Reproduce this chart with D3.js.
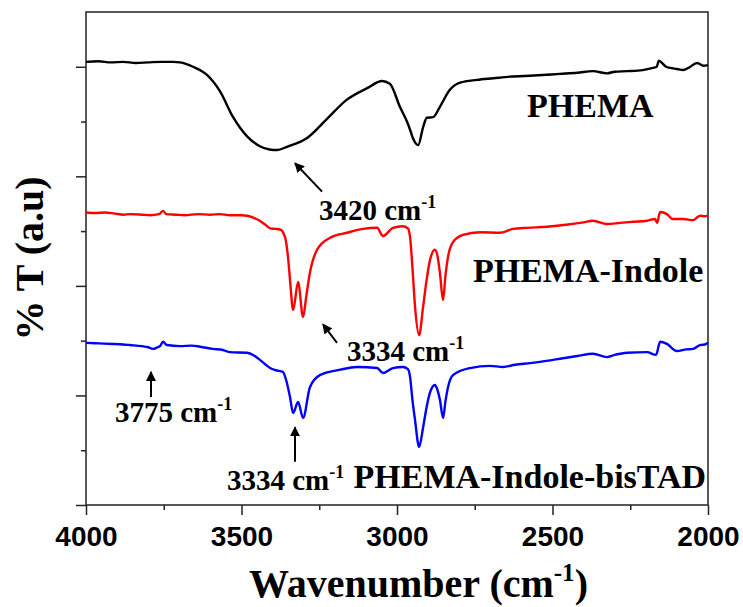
<!DOCTYPE html>
<html>
<head>
<meta charset="utf-8">
<script src="https://cdn.jsdelivr.net/npm/d3@7"></script>
<style>
  body { margin: 0; background: #fff; }
  .serif { font-family: "Liberation Serif", "Times New Roman", serif; font-weight: bold; fill: #000; }
  .tick text { font-family: "Liberation Sans", Arial, sans-serif; font-weight: bold; font-size: 28px; fill: #000; }
</style>
</head>
<body>
<svg width="743" height="607"></svg>
<script>
// FTIR spectra, [wavenumber (cm-1), %T offset]
var phema = [
  [4000,80.9],[3960,81.0],[3920,80.8],[3880,80.9],[3840,80.7],[3800,80.8],[3760,80.9],[3720,80.9],
  [3698,80.8],[3656,80.0],[3611,78.5],[3569,75.5],[3527,70.8],[3482,67.3],[3441,65.5],[3410,64.9],
  [3385,64.8],[3354,65.4],[3289,67.0],[3225,70.5],[3161,74.0],[3096,76.1],[3048,77.4],[3023,76.9],
  [2990,72.6],[2968,70.0],[2958,68.5],[2949,67.0],[2932,65.7],[2916,69.0],[2904,70.7],[2884,70.8],
  [2862,72.7],[2830,75.8],[2797,77.1],[2743,77.6],[2690,77.9],[2637,78.2],[2560,78.4],[2476,78.7],
  [2420,78.9],[2370,79.2],[2325,78.8],[2300,79.1],[2260,79.2],[2210,79.4],[2177,79.8],[2165,80.0],
  [2158,81.1],[2148,80.7],[2135,80.0],[2122,79.8],[2100,79.6],[2080,79.4],[2060,79.9],[2035,80.7],
  [2015,80.2],[2000,80.3]
];
var phemaIndole = [
  [4000,53.4],[3970,53.3],[3940,53.4],[3907,53.2],[3880,53.0],[3859,53.1],[3820,53.0],[3794,52.9],
  [3765,53.1],[3752,53.7],[3743,53.1],[3710,53.0],[3682,52.9],[3640,53.1],[3601,53.0],[3570,53.1],
  [3537,52.9],[3500,52.9],[3482,52.8],[3460,52.4],[3441,51.9],[3420,51.0],[3408,50.5],[3390,50.4],
  [3376,50.3],[3360,48.9],[3350,45.0],[3344,41.1],[3334,35.6],[3318,40.7],[3302,34.3],[3292,38.0],
  [3280,42.4],[3257,46.6],[3215,48.8],[3161,49.7],[3109,50.4],[3064,50.6],[3045,49.1],[3013,50.6],
  [2981,50.9],[2965,50.5],[2958,48.9],[2950,43.0],[2942,36.2],[2929,31.0],[2916,36.2],[2905,41.0],
  [2894,44.7],[2878,46.6],[2870,45.5],[2862,42.4],[2852,37.4],[2844,42.0],[2836,45.3],[2820,48.0],
  [2788,49.3],[2733,49.8],[2669,49.7],[2627,50.4],[2580,50.6],[2518,50.8],[2450,51.2],[2400,51.6],
  [2370,51.9],[2325,51.3],[2283,51.5],[2240,51.7],[2196,51.9],[2170,52.2],[2164,51.5],[2154,53.5],
  [2132,53.1],[2113,52.2],[2080,52.2],[2048,52.0],[2026,52.8],[2010,52.7],[2000,52.9]
];
var phemaBisTAD = [
  [4000,29.6],[3960,29.5],[3913,29.4],[3880,29.3],[3859,29.2],[3820,29.0],[3800,28.8],[3785,28.5],
  [3770,28.8],[3762,29.0],[3752,29.8],[3740,29.2],[3698,29.0],[3660,29.1],[3633,28.9],[3592,28.5],
  [3560,28.3],[3537,27.9],[3482,27.8],[3460,27.3],[3441,26.5],[3420,25.5],[3408,25.0],[3390,24.6],
  [3367,24.3],[3355,22.5],[3344,19.7],[3334,16.8],[3318,18.8],[3302,15.9],[3280,21.5],[3248,23.7],
  [3183,24.7],[3129,25.2],[3064,25.0],[3045,24.1],[3013,25.0],[2981,25.2],[2965,24.8],[2958,23.4],
  [2950,19.0],[2942,15.5],[2929,10.6],[2916,14.2],[2905,17.8],[2894,20.5],[2878,21.9],[2870,21.0],
  [2862,19.2],[2852,15.9],[2844,19.0],[2836,21.5],[2820,23.7],[2765,25.0],[2701,25.4],[2659,25.2],
  [2620,25.6],[2572,25.9],[2520,26.3],[2466,26.8],[2420,27.2],[2370,27.6],[2325,27.0],[2300,27.4],
  [2260,27.8],[2196,27.9],[2167,27.4],[2154,29.8],[2132,29.4],[2100,28.1],[2070,28.4],[2048,28.5],
  [2026,29.2],[2010,29.3],[2000,29.6]
];

var seriesColors = ["#000000", "#ff0000", "#0000ff"];
var xMajor = [4000, 3500, 3000, 2500, 2000];
var xMinor = [3750, 3250, 2750, 2250];
var yMajor = [0, 20, 40, 60, 80];
var yMinor = [10, 30, 50, 70];

// series names: [text, wavenumber, %T, anchor]
var seriesLabels = [
  ["PHEMA", 2582, 70.8, "start"],
  ["PHEMA-Indole", 2756, 40.7, "start"],
  ["PHEMA-Indole-bisTAD", 2006, 3.1, "end"]
];
// peak notes: [number, wavenumber, %T]
var peakLabels = [
  ["3420", 3251, 52.0],
  ["3334", 3161, 26.3],
  ["3775", 3907, 15.2],
  ["3334", 3547, 2.7]
];
// arrows: [from wn, from T, to wn, to T]
var arrows = [
  [3241, 57.2, 3328, 62.4],
  [3193, 29.6, 3238, 33.0],
  [3791, 19.7, 3791, 24.3],
  [3328, 7.9, 3328, 14.2]
];

var svg = d3.select("svg"),
    margin = {top: 12, right: 35, bottom: 102, left: 86},
    width = +svg.attr("width") - margin.left - margin.right,
    height = +svg.attr("height") - margin.top - margin.bottom;

var g = svg.append("g").attr("transform", "translate(" + margin.left + "," + margin.top + ")");

var x = d3.scaleLinear().domain([4000, 2000]).range([0, width]);
var y = d3.scaleLinear().domain([0, 90]).range([height, 0]);

// frame
g.append("rect")
  .attr("width", width).attr("height", height)
  .attr("fill", "none").attr("stroke", "#222").attr("stroke-width", 1.5);

function styleAxis(sel) {
  sel.select(".domain").remove();
  sel.selectAll(".tick line").attr("stroke", "#222").attr("stroke-width", 1.5);
}

g.append("g").attr("transform", "translate(0," + height + ")")
  .call(d3.axisBottom(x).tickValues(xMajor).tickSize(10).tickPadding(11).tickFormat(d3.format("d")))
  .call(styleAxis);
g.append("g").attr("transform", "translate(0," + height + ")")
  .call(d3.axisBottom(x).tickValues(xMinor).tickSize(5).tickFormat(""))
  .call(styleAxis);
g.append("g")
  .call(d3.axisLeft(y).tickValues(yMajor).tickSize(10).tickFormat(""))
  .call(styleAxis);
g.append("g")
  .call(d3.axisLeft(y).tickValues(yMinor).tickSize(5).tickFormat(""))
  .call(styleAxis);

// spectra
var line = d3.line()
  .x(function(d) { return x(d[0]); })
  .y(function(d) { return y(d[1]); })
  .curve(d3.curveMonotoneX);

[phema, phemaIndole, phemaBisTAD].forEach(function(s, i) {
  g.append("path")
    .datum(s)
    .attr("fill", "none")
    .attr("stroke", seriesColors[i])
    .attr("stroke-width", 2.4)
    .attr("stroke-linejoin", "round")
    .attr("d", line);
});

// arrow head
svg.append("defs").append("marker")
  .attr("id", "head")
  .attr("viewBox", "0 0 10 10")
  .attr("refX", 9).attr("refY", 5)
  .attr("markerWidth", 5).attr("markerHeight", 5)
  .attr("markerUnits", "strokeWidth")
  .attr("orient", "auto")
  .append("path").attr("d", "M0,0L10,5L0,10Z").attr("fill", "#000");

g.selectAll(".arrow")
  .data(arrows)
  .enter().append("line")
  .attr("class", "arrow")
  .attr("x1", function(d) { return x(d[0]); })
  .attr("y1", function(d) { return y(d[1]); })
  .attr("x2", function(d) { return x(d[2]); })
  .attr("y2", function(d) { return y(d[3]); })
  .attr("stroke", "#000")
  .attr("stroke-width", 2)
  .attr("marker-end", "url(#head)");

// labels
g.selectAll(".slabel")
  .data(seriesLabels)
  .enter().append("text")
  .attr("class", "slabel serif")
  .attr("x", function(d) { return x(d[1]); })
  .attr("y", function(d) { return y(d[2]); })
  .attr("text-anchor", function(d) { return d[3]; })
  .style("font-size", "34px")
  .text(function(d) { return d[0]; });

var pk = g.selectAll(".plabel")
  .data(peakLabels)
  .enter().append("text")
  .attr("class", "plabel serif")
  .attr("x", function(d) { return x(d[1]); })
  .attr("y", function(d) { return y(d[2]); })
  .style("font-size", "29px");
pk.append("tspan").text(function(d) { return d[0] + " cm"; });
pk.append("tspan").attr("dy", -12).style("font-size", "18px").text("-1");

// axis titles
var xt = svg.append("text")
  .attr("class", "serif")
  .attr("x", 249)
  .attr("y", 597)
  .style("font-size", "40px");
xt.append("tspan").text("Wavenumber (cm");
xt.append("tspan").attr("dy", -16).style("font-size", "25px").text("-1");
xt.append("tspan").attr("dy", 16).text(")");

svg.append("text")
  .attr("class", "serif")
  .attr("transform", "translate(43," + (margin.top + height / 2) + ") rotate(-90)")
  .attr("text-anchor", "middle")
  .style("font-size", "40px")
  .text("% T (a.u)");
</script>
</body>
</html>
